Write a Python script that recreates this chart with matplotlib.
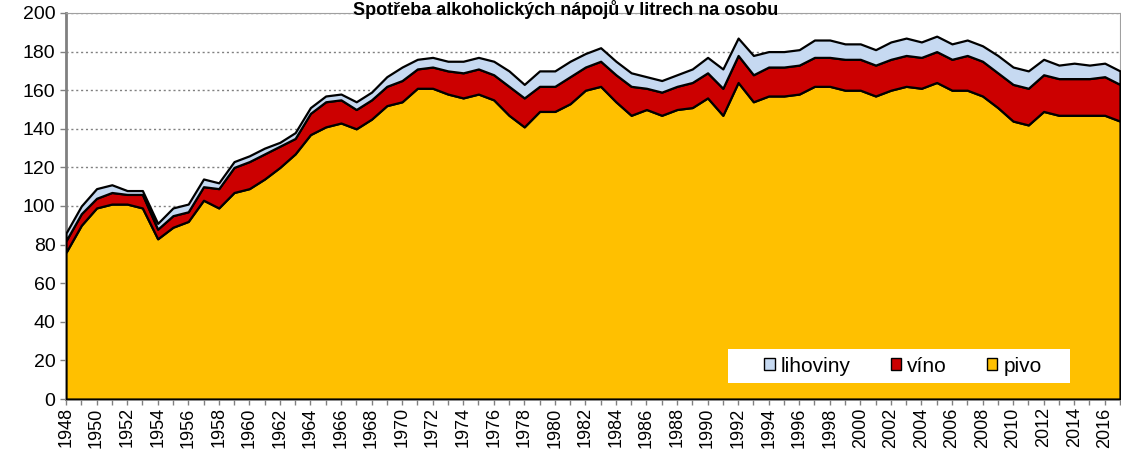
import numpy as np
import matplotlib
matplotlib.use("Agg")
import matplotlib.pyplot as plt
from matplotlib.patches import Patch, Rectangle

plt.rcParams['font.family'] = ['Liberation Sans', 'DejaVu Sans']

# spotreba v litrech na osobu, 1948-2017
years = list(range(1948, 2018))

pivo = [76, 90, 99, 101, 101, 99, 83, 89, 92, 103,
        99, 107, 109, 114, 120, 127, 137, 141, 143, 140,
        145, 152, 154, 161, 161, 158, 156, 158, 155, 147,
        141, 149, 149, 153, 160, 162, 154, 147, 150, 147,
        150, 151, 156, 147, 164, 154, 157, 157, 158, 162,
        162, 160, 160, 157, 160, 162, 161, 164, 160, 160,
        157, 151, 144, 142, 149, 147, 147, 147, 147, 144]

vino_top = [82, 96, 104, 107, 106, 106, 88, 95, 97, 110,
            109, 120, 123, 127, 131, 135, 148, 154, 155, 150,
            155, 162, 165, 171, 172, 170, 169, 171, 168, 162,
            156, 162, 162, 167, 172, 175, 168, 162, 161, 159,
            162, 164, 169, 161, 178, 168, 172, 172, 173, 177,
            177, 176, 176, 173, 176, 178, 177, 180, 176, 178,
            175, 169, 163, 161, 168, 166, 166, 166, 167, 163]

celkem = [86, 100, 109, 111, 108, 108, 91, 99, 101, 114,
          112, 123, 126, 130, 133, 138, 151, 157, 158, 154,
          159, 167, 172, 176, 177, 175, 175, 177, 175, 170,
          163, 170, 170, 175, 179, 182, 175, 169, 167, 165,
          168, 171, 177, 171, 187, 178, 180, 180, 181, 186,
          186, 184, 184, 181, 185, 187, 185, 188, 184, 186,
          183, 178, 172, 170, 176, 173, 174, 173, 174, 170]

vino = [t - p for t, p in zip(vino_top, pivo)]
lihoviny = [c - t for c, t in zip(celkem, vino_top)]

c_pivo = '#FFC000'
c_vino = '#CC0000'
c_lih = '#C6D9F1'

fig = plt.figure(figsize=(11.21, 4.59), dpi=100)
ax = fig.add_axes([0.0589, 0.1307, 0.9402, 0.841])

ax.stackplot(years, pivo, vino, lihoviny,
             colors=[c_pivo, c_vino, c_lih],
             edgecolor='black', linewidth=1.6, zorder=3)

ax.set_xlim(1948, 2017)
ax.set_ylim(0, 200)
ax.set_yticks(range(0, 201, 20))
ax.set_xticks(range(1948, 2017, 2))
ax.set_xticks(range(1948, 2018), minor=True)
ax.tick_params(axis='x', labelrotation=90, labelsize=13, color='#808080',
               length=4, width=1, which='both', pad=2)
ax.tick_params(axis='y', labelsize=14, color='#808080', length=4, width=1)

ax.grid(axis='y', linestyle=(0, (1.5, 2)), color='#808080', linewidth=1, zorder=0)
for s in ax.spines.values():
    s.set_color('#A0A0A0')
ax.spines['left'].set_color('#808080')
ax.spines['left'].set_linewidth(2)
ax.spines['bottom'].set_color('#808080')
ax.spines['bottom'].set_linewidth(2)

fig.text(0.505, 0.999, 'Spotřeba alkoholických nápojů v litrech na osobu',
         ha='center', va='top', fontsize=13, fontweight='bold')

# white box behind the legend
ax.add_patch(Rectangle((0.628, 0.0415), 0.3246, 0.088, transform=ax.transAxes,
                       facecolor='white', edgecolor='none', zorder=4))

handles = [Patch(facecolor=c_lih, edgecolor='black', label='lihoviny'),
           Patch(facecolor=c_vino, edgecolor='black', label='víno'),
           Patch(facecolor=c_pivo, edgecolor='black', label='pivo')]
leg = ax.legend(handles=handles, ncol=3, loc='center',
                bbox_to_anchor=(0.794, 0.0855), fontsize=15,
                frameon=False, handlelength=0.5, handleheight=0.5,
                handletextpad=0.3, columnspacing=1.9,
                borderpad=0, borderaxespad=0)
leg.set_zorder(5)

fig.savefig('out.png', dpi=100)
